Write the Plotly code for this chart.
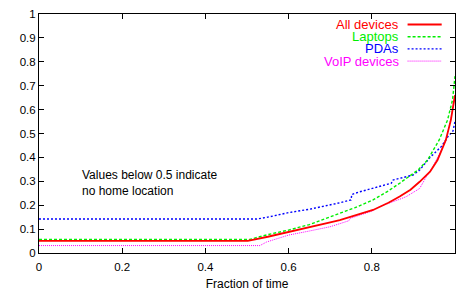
import plotly.graph_objects as go

# ---- data ----
all_x = [0, 0.502, 0.55, 0.6, 0.65, 0.7, 0.723, 0.76, 0.803, 0.84, 0.867, 0.893, 0.915, 0.94, 0.958, 0.978, 0.99, 1.0]
all_y = [0.051, 0.051, 0.068, 0.087, 0.107, 0.128, 0.138, 0.157, 0.18, 0.21, 0.236, 0.265, 0.298, 0.34, 0.389, 0.473, 0.556, 0.66]

lap_x = [0, 0.507, 0.55, 0.6, 0.65, 0.7, 0.723, 0.76, 0.803, 0.84, 0.867, 0.89, 0.911, 0.934, 0.962, 0.982, 0.994, 1.0]
lap_y = [0.057, 0.057, 0.077, 0.096, 0.119, 0.152, 0.165, 0.19, 0.222, 0.26, 0.292, 0.32, 0.347, 0.389, 0.473, 0.556, 0.64, 0.74]

pda_x = [0, 0.523, 0.55, 0.6, 0.65, 0.7, 0.723, 0.75, 0.752, 0.771, 0.8, 0.847, 0.85, 0.899, 0.915, 0.94, 0.967, 0.983, 0.995, 1.0]
pda_y = [0.142, 0.142, 0.15, 0.169, 0.183, 0.2, 0.21, 0.222, 0.245, 0.256, 0.27, 0.292, 0.305, 0.326, 0.347, 0.40, 0.445, 0.487, 0.51, 0.55]

voip_x = [0, 0.531, 0.547, 0.6, 0.65, 0.7, 0.745, 0.748, 0.8, 0.819, 0.867, 0.883, 0.915, 0.931, 0.947, 0.963, 0.979, 0.991, 1.0]
voip_y = [0.031, 0.031, 0.046, 0.075, 0.092, 0.11, 0.135, 0.145, 0.175, 0.194, 0.225, 0.236, 0.27, 0.319, 0.361, 0.417, 0.473, 0.57, 0.66]

names = ["All devices", "Laptops", "PDAs", "VoIP devices"]
colors = ["#ff0000", "#00ee00", "#0000ff", "#ff00ff"]
dashes = ["solid", "3px,2px", "2px,2px", "1px,1px"]
widths = [1.8, 1.4, 1.4, 1.0]
x_ticks = [0, 0.2, 0.4, 0.6, 0.8, 1]
x_tick_labels = ["0", "0.2", "0.4", "0.6", "0.8", "1"]
y_ticks = [0, 0.1, 0.2, 0.3, 0.4, 0.5, 0.6, 0.7, 0.8, 0.9, 1]
y_tick_labels = ["0", "0.1", "0.2", "0.3", "0.4", "0.5", "0.6", "0.7", "0.8", "0.9", "1"]

FONT = "Liberation Sans, Arial, sans-serif"

fig = go.Figure()
series = [(all_x, all_y), (lap_x, lap_y), (pda_x, pda_y), (voip_x, voip_y)]
# draw order: VoIP, PDAs, Laptops, then All on top
for i in [3, 2, 1, 0]:
    xs, ys = series[i]
    fig.add_trace(go.Scatter(x=xs, y=ys, mode="lines", name=names[i],
                             line=dict(color=colors[i], dash=dashes[i], width=widths[i]),
                             showlegend=False, cliponaxis=True, hoverinfo="skip"))

# legend (gnuplot-style: right-aligned text, sample to the right)
rows = [0.956, 0.905, 0.854, 0.803]
for i in range(4):
    fig.add_annotation(x=0.868, y=rows[i], xref="paper", yref="paper", text=names[i],
                       showarrow=False, xanchor="right", yanchor="middle",
                       borderpad=0,
                       font=dict(family=FONT, size=13, color=colors[i]))
    fig.add_shape(type="line", xref="paper", yref="paper", x0=0.886, x1=0.968,
                  y0=rows[i], y1=rows[i],
                  line=dict(color=colors[i], dash=dashes[i], width=widths[i]))

fig.add_annotation(x=0.098, y=0.295, xref="x", yref="y", showarrow=False,
                   text="Values below 0.5 indicate<br>no home location",
                   xanchor="left", yanchor="middle", align="left",
                   font=dict(family=FONT, size=12, color="black"))

fig.update_layout(
    width=456, height=291,
    margin=dict(l=39, r=1, t=14, b=38, autoexpand=False),
    paper_bgcolor="white", plot_bgcolor="white",
    font=dict(family=FONT, size=11.5, color="black"),
)
fig.update_xaxes(range=[0, 1], tickvals=x_ticks, ticktext=x_tick_labels,
                 showgrid=False, zeroline=False, showline=True, linecolor="black",
                 linewidth=1, mirror="ticks", ticks="inside", ticklen=5,
                 tickcolor="black", automargin=False, ticklabelstandoff=3,
                 title=dict(text="Fraction of time", standoff=8, font=dict(size=12)))
fig.update_yaxes(range=[0, 1], tickvals=y_ticks, ticktext=y_tick_labels,
                 showgrid=False, zeroline=False, showline=True, linecolor="black",
                 linewidth=1, mirror="ticks", ticks="inside", ticklen=5,
                 tickcolor="black", automargin=False)

# remove the page's default body margin so the figure fills the window exactly
fig.write_html("out.html", config={"displayModeBar": False},
               post_script="document.body.style.margin='0';document.body.style.overflow='hidden';")
